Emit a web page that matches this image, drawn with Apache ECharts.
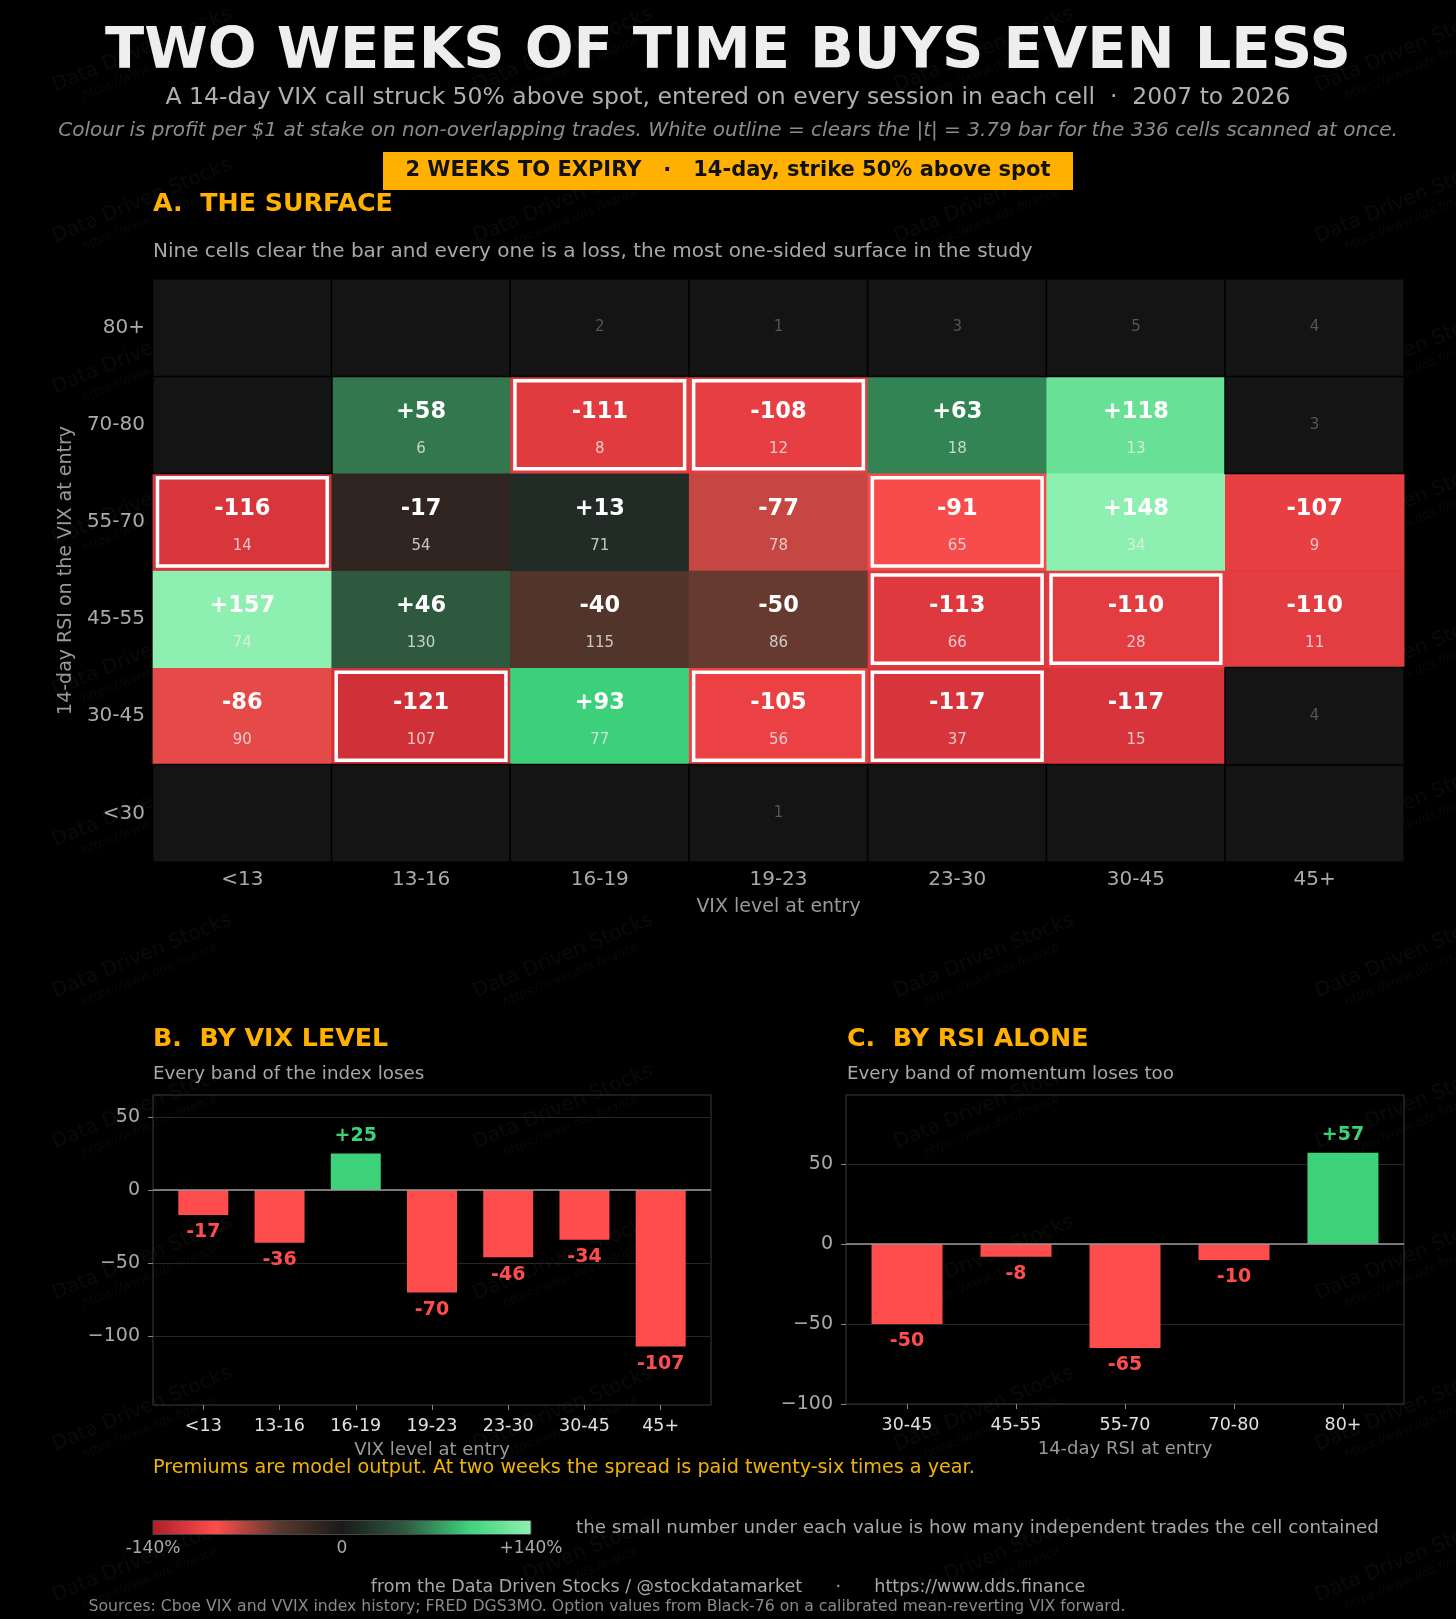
<!DOCTYPE html>
<html>
<head>
<meta charset="utf-8">
<style>
  html, body { margin: 0; padding: 0; background: #000; }
  #chart { width: 1456px; height: 1619px; }
</style>
<script src="https://cdn.jsdelivr.net/npm/echarts@6.0.0/dist/echarts.min.js"></script>
</head>
<body>
<div id="chart"></div>
<script>
const vixBands = ['<13', '13-16', '16-19', '19-23', '23-30', '30-45', '45+'];
const rsiBands = ['<30', '30-45', '45-55', '55-70', '70-80', '80+'];

// rows follow rsiBands (bottom to top), columns follow vixBands; null = too few trades
const cellPnl = [
    [null, null, null, null, null, null, null],
    [-86, -121, 93, -105, -117, -117, null],
    [157, 46, -40, -50, -113, -110, -110],
    [-116, -17, 13, -77, -91, 148, -107],
    [null, 58, -111, -108, 63, 118, null],
    [null, null, null, null, null, null, null]
];
const cellTrades = [
    [0, 0, 0, 1, 0, 0, 0],
    [90, 107, 77, 56, 37, 15, 4],
    [74, 130, 115, 86, 66, 28, 11],
    [14, 54, 71, 78, 65, 34, 9],
    [0, 6, 8, 12, 18, 13, 3],
    [0, 0, 2, 1, 3, 5, 4]
];
// [vix index, rsi index] of cells that clear |t| = 3.79
const clearsBar = [[2, 4], [3, 4], [0, 3], [4, 3], [4, 2], [5, 2], [1, 1], [3, 1], [4, 1]];

const vixPnl = [-17, -36, 25, -70, -46, -34, -107];
const rsiSideBands = ['30-45', '45-55', '55-70', '70-80', '80+'];
const rsiPnl = [-50, -8, -65, -10, 57];

const colorStops = ['#b01e2a', '#ff4d4d', '#5a392d', '#1a1a1a', '#2e5a40', '#3dd17a', '#8ef0b0'];

const FONT = '"DejaVu Sans", "Noto Sans", sans-serif';
const RED = '#ff4d4d';
const GREEN = '#3dd17a';
const ORANGE = '#ffb000';

const signed = v => (v > 0 ? '+' : '') + v;
const minusTick = v => v < 0 ? '\u2212' + Math.abs(v) : String(v);

// split cells into scored and thin ones
const scored = [];
const thin = [];
cellPnl.forEach((row, y) => row.forEach((v, x) => {
    if (v === null) thin.push([x, y, cellTrades[y][x]]);
    else scored.push([x, y, v, cellTrades[y][x]]);
}));

function text(x, y, str, font, fill, align) {
    return {
        type: 'text', silent: true,
        style: { x, y, text: str, font, fill, textAlign: align || 'left', textVerticalAlign: 'middle' }
    };
}

function watermarks() {
    const out = [];
    for (let row = 0; row < 11; row++) {
        for (let col = 0; col < 4; col++) {
            out.push({
                type: 'group', x: 142 + col * 421, y: 50 + row * 151, rotation: Math.PI / 8, silent: true, z: -1,
                children: [
                    { type: 'text', style: { x: 0, y: 0, text: 'Data Driven Stocks', font: '20px ' + FONT, fill: 'rgba(255,255,255,0.04)', textAlign: 'center', textVerticalAlign: 'middle' } },
                    { type: 'text', style: { x: 0, y: 20, text: 'https://www.dds.finance', font: 'italic 12px ' + FONT, fill: 'rgba(255,255,255,0.035)', textAlign: 'center', textVerticalAlign: 'middle' } }
                ]
            });
        }
    }
    return out;
}

const myChart = echarts.init(document.getElementById('chart'), null, { renderer: 'canvas' });

// bar panels use a value x axis so the outer margins match the reference
function barXAxis(grid, names, pad, title) {
    const idx = names.map((_, i) => i);
    return {
        type: 'value',
        gridIndex: grid,
        min: -pad,
        max: names.length - 1 + pad,
        axisLine: { show: false, onZero: false },
        splitLine: { show: false },
        axisTick: { show: true, length: 5, lineStyle: { color: '#888' }, customValues: idx },
        axisLabel: { color: '#e0e0e0', fontSize: 17.5, fontFamily: FONT, margin: 12, customValues: idx, formatter: v => names[Math.round(v)] },
        name: title,
        nameLocation: 'middle',
        nameGap: 36,
        nameTextStyle: { color: '#999', fontSize: 18, fontFamily: FONT }
    };
}

function barYAxis(grid, min, max) {
    const ticks = [-100, -50, 0, 50];
    return {
        type: 'value', gridIndex: grid, min, max,
        axisLine: { show: false, onZero: false },
        axisTick: { show: true, length: 5, lineStyle: { color: '#888' }, customValues: ticks },
        axisLabel: { color: '#aaa', fontSize: 19, fontFamily: FONT, formatter: minusTick, customValues: ticks, margin: 13 },
        splitLine: { show: true, lineStyle: { color: '#262626', width: 1 } }
    };
}

function barSeries(values, axis, width) {
    return {
        type: 'bar',
        xAxisIndex: axis,
        yAxisIndex: axis,
        barWidth: width,
        animation: false,
        data: values.map((v, i) => ({
            value: [i, v],
            itemStyle: { color: v < 0 ? RED : GREEN },
            label: { position: v < 0 ? 'bottom' : 'top', color: v < 0 ? RED : GREEN }
        })),
        label: {
            show: true,
            distance: 8,
            fontSize: 19,
            fontWeight: 'bold',
            fontFamily: FONT,
            formatter: p => signed(p.value[1])
        },
        markLine: {
            silent: true,
            symbol: ['none', 'none'],
            label: { show: false },
            lineStyle: { color: '#9a9a9a', width: 1.5, type: 'solid' },
            data: [{ yAxis: 0 }]
        }
    };
}

const option = {
    backgroundColor: '#000',
    animation: false,
    textStyle: { fontFamily: FONT },
    graphic: [
        ...watermarks(),
        text(728, 53, 'TWO WEEKS OF TIME BUYS EVEN LESS', 'bold 57.5px ' + FONT, '#eeeeee', 'center'),
        text(728, 98, 'A 14-day VIX call struck 50% above spot, entered on every session in each cell  \u00b7  2007 to 2026', '23.5px ' + FONT, '#b0b0b0', 'center'),
        text(728, 131, 'Colour is profit per $1 at stake on non-overlapping trades. White outline = clears the |t| = 3.79 bar for the 336 cells scanned at once.', 'italic 20px ' + FONT, '#8c8c8c', 'center'),
        { type: 'rect', silent: true, shape: { x: 383, y: 152, width: 690, height: 38 }, style: { fill: ORANGE } },
        text(728, 171, '2 WEEKS TO EXPIRY   \u00b7   14-day, strike 50% above spot', 'bold 21px ' + FONT, '#111', 'center'),
        text(153, 204, 'A.  THE SURFACE', 'bold 25.3px ' + FONT, ORANGE),
        text(153, 252, 'Nine cells clear the bar and every one is a loss, the most one-sided surface in the study', '20px ' + FONT, '#a8a8a8'),
        text(153, 1039, 'B.  BY VIX LEVEL', 'bold 25.3px ' + FONT, ORANGE),
        text(153, 1074, 'Every band of the index loses', '18.3px ' + FONT, '#a8a8a8'),
        text(847, 1039, 'C.  BY RSI ALONE', 'bold 25.3px ' + FONT, ORANGE),
        text(847, 1074, 'Every band of momentum loses too', '18.3px ' + FONT, '#a8a8a8'),
        text(153, 1468, 'Premiums are model output. At two weeks the spread is paid twenty-six times a year.', '19.2px ' + FONT, '#f0b400'),
        { type: 'rect', silent: true, z: 10, shape: { x: 153, y: 1520.5, width: 378, height: 14 }, style: { fill: 'none', stroke: '#444', lineWidth: 1 } },
        text(153, 1549, '-140%', '17px ' + FONT, '#aaa', 'center'),
        text(342, 1549, '0', '17px ' + FONT, '#aaa', 'center'),
        text(531, 1549, '+140%', '17px ' + FONT, '#aaa', 'center'),
        text(576, 1528, 'the small number under each value is how many independent trades the cell contained', '18.3px ' + FONT, '#a8a8a8'),
        text(728, 1587, 'from the Data Driven Stocks / @stockdatamarket      \u00b7      https://www.dds.finance', '17.5px ' + FONT, '#a8a8a8', 'center'),
        text(607, 1607, 'Sources: Cboe VIX and VVIX index history; FRED DGS3MO. Option values from Black-76 on a calibrated mean-reverting VIX forward.', '15.7px ' + FONT, '#8a8a8a', 'center')
    ],
    visualMap: {
        type: 'continuous',
        min: -140,
        max: 140,
        dimension: 2,
        seriesIndex: 0,
        orient: 'horizontal',
        left: 153,
        top: 1520.5,
        padding: 0,
        itemWidth: 14,
        itemHeight: 378,
        calculable: false,
        hoverLink: false,
        text: null,
        showLabel: false,
        inRange: { color: colorStops }
    },
    grid: [
        { left: 153, top: 279, width: 1251, height: 583, show: true, backgroundColor: '#141414', borderColor: '#3a3a3a', borderWidth: 1 },
        { left: 153, top: 1095, width: 558, height: 310, show: true, borderColor: '#3a3a3a', borderWidth: 1 },
        { left: 846, top: 1095, width: 558, height: 309, show: true, borderColor: '#3a3a3a', borderWidth: 1 }
    ],
    xAxis: [
        {
            type: 'category', gridIndex: 0, data: vixBands,
            axisLine: { show: false }, axisTick: { show: false }, splitLine: { show: false },
            axisLabel: { color: '#aaa', fontSize: 20, fontFamily: FONT, margin: 8 },
            name: 'VIX level at entry', nameLocation: 'middle', nameGap: 36,
            nameTextStyle: { color: '#999', fontSize: 19, fontFamily: FONT }
        },
        barXAxis(1, vixBands, 0.66, 'VIX level at entry'),
        barXAxis(2, rsiSideBands, 0.56, '14-day RSI at entry')
    ],
    yAxis: [
        {
            type: 'category', gridIndex: 0, data: rsiBands,
            axisLine: { show: false }, axisTick: { show: false }, splitLine: { show: false },
            axisLabel: { color: '#aaa', fontSize: 20, fontFamily: FONT, margin: 8 },
            name: '14-day RSI on the VIX at entry', nameLocation: 'middle', nameGap: 74, nameRotate: 90,
            nameTextStyle: { color: '#999', fontSize: 19, fontFamily: FONT }
        },
        barYAxis(1, -147, 65),
        barYAxis(2, -100, 93)
    ],
    series: [
        {
            type: 'heatmap',
            xAxisIndex: 0,
            yAxisIndex: 0,
            data: scored,
            itemStyle: { borderWidth: 0 },
            label: {
                show: true,
                formatter: p => '{v|' + signed(p.data[2]) + '}\n{n|' + p.data[3] + '}',
                rich: {
                    v: { color: '#fff', fontSize: 22.5, fontWeight: 'bold', fontFamily: FONT, lineHeight: 48 },
                    n: { color: 'rgba(235,235,235,0.8)', fontSize: 15, fontFamily: FONT, lineHeight: 26 }
                }
            },
            emphasis: { disabled: true }
        },
        {
            type: 'heatmap',
            xAxisIndex: 0,
            yAxisIndex: 0,
            data: thin,
            itemStyle: { color: '#141414', borderColor: '#000', borderWidth: 1.5 },
            label: {
                show: true,
                color: '#555',
                fontSize: 15,
                fontFamily: FONT,
                formatter: p => p.data[2] > 0 ? String(p.data[2]) : ''
            },
            emphasis: { disabled: true }
        },
        {
            type: 'custom',
            xAxisIndex: 0,
            yAxisIndex: 0,
            z: 5,
            silent: true,
            data: clearsBar,
            renderItem: (params, api) => {
                const c = api.coord([api.value(0), api.value(1)]);
                const s = api.size([1, 1]);
                return {
                    type: 'rect',
                    shape: { x: c[0] - s[0] / 2 + 4.5, y: c[1] - s[1] / 2 + 4.5, width: s[0] - 9, height: s[1] - 9 },
                    style: { fill: 'none', stroke: '#fff', lineWidth: 3.5 }
                };
            }
        },
        barSeries(vixPnl, 1, 50),
        barSeries(rsiPnl, 2, 71)
    ]
};

myChart.setOption(option);

window.onresize = function () {
    myChart.resize();
};
</script>
</body>
</html>
